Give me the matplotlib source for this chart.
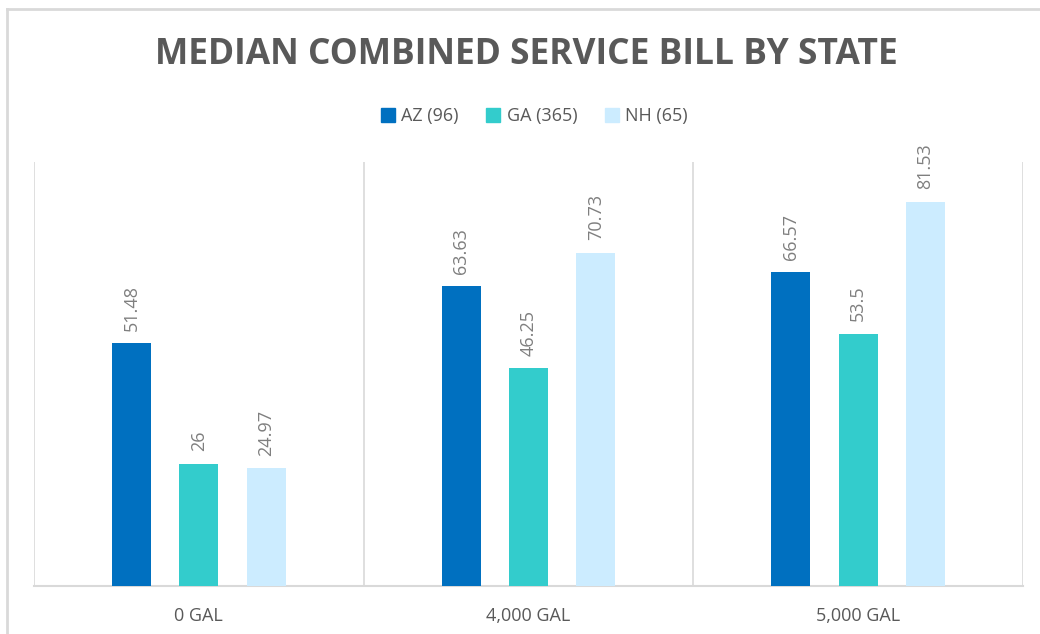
import matplotlib
matplotlib.use("Agg")
import matplotlib.pyplot as plt
import numpy as np
from matplotlib.lines import Line2D

categories = ["0 GAL", "4,000 GAL", "5,000 GAL"]
series_names = ["AZ (96)", "GA (365)", "NH (65)"]
az = [51.48, 63.63, 66.57]
ga = [26, 46.25, 53.5]
nh = [24.97, 70.73, 81.53]
labels_az = ["51.48", "63.63", "66.57"]
labels_ga = ["26", "46.25", "53.5"]
labels_nh = ["24.97", "70.73", "81.53"]

colors = ["#0070C0", "#33CCCC", "#CCECFF"]
gray = "#595959"
grid = "#D9D9D9"

plt.rcParams['font.family'] = ['Open Sans', 'DejaVu Sans']

fig = plt.figure(figsize=(10.4, 6.34), dpi=100)
ax = fig.add_axes([34/1040, 48/634, (1023-34)/1040, (586-162)/634])

x = np.arange(len(categories))
offs = [-0.2045, 0.0, 0.2045]
w = 0.118
for vals, labs, off, c, name in zip([az, ga, nh], [labels_az, labels_ga, labels_nh], offs, colors, series_names):
    ax.bar(x + off, vals, width=w, color=c, label=name, zorder=3)
    for xi, v, l in zip(x, vals, labs):
        ax.annotate(l, (xi + off, v), xytext=(0, 9), textcoords="offset points",
                    rotation=90, ha="center", va="bottom", color="#7F7F7F", fontsize=13)

ax.set_xlim(-0.5, 2.5)
ax.set_ylim(0, 90)
for s in ["top", "left", "right"]:
    ax.spines[s].set_visible(False)
ax.spines["bottom"].set_color(grid)
ax.spines["bottom"].set_linewidth(1.5)
for xs in [-0.5, 0.5, 1.5, 2.5]:
    ax.axvline(xs, color=grid, lw=1.2, zorder=1)
ax.set_yticks([])
ax.set_xticks(x)
ax.set_xticklabels(categories, color=gray, fontsize=13)
ax.tick_params(axis="x", length=0, pad=15)

fig.text(0.506, 1 - 55/634, "MEDIAN COMBINED SERVICE BILL BY STATE", ha="center", va="center",
         fontsize=25.5, fontweight="bold", color=gray)

handles = [Line2D([0], [0], marker="s", color="w", markerfacecolor=c, markeredgecolor=c, markersize=9.5, linestyle="")
           for c in colors]
fig.legend(handles, series_names, loc="center", bbox_to_anchor=(0.512, 1 - 116/634), ncol=3,
           frameon=False, fontsize=13, labelcolor=gray, handletextpad=0.15, columnspacing=1.3,
           handlelength=1.2)

# outer chart border
fig.add_artist(Line2D([7/1040, 1], [1 - 9/634, 1 - 9/634], transform=fig.transFigure, color=grid, lw=2))
fig.add_artist(Line2D([7/1040, 7/1040], [0, 1 - 9/634], transform=fig.transFigure, color=grid, lw=2))

fig.savefig("out.png", dpi=100)
